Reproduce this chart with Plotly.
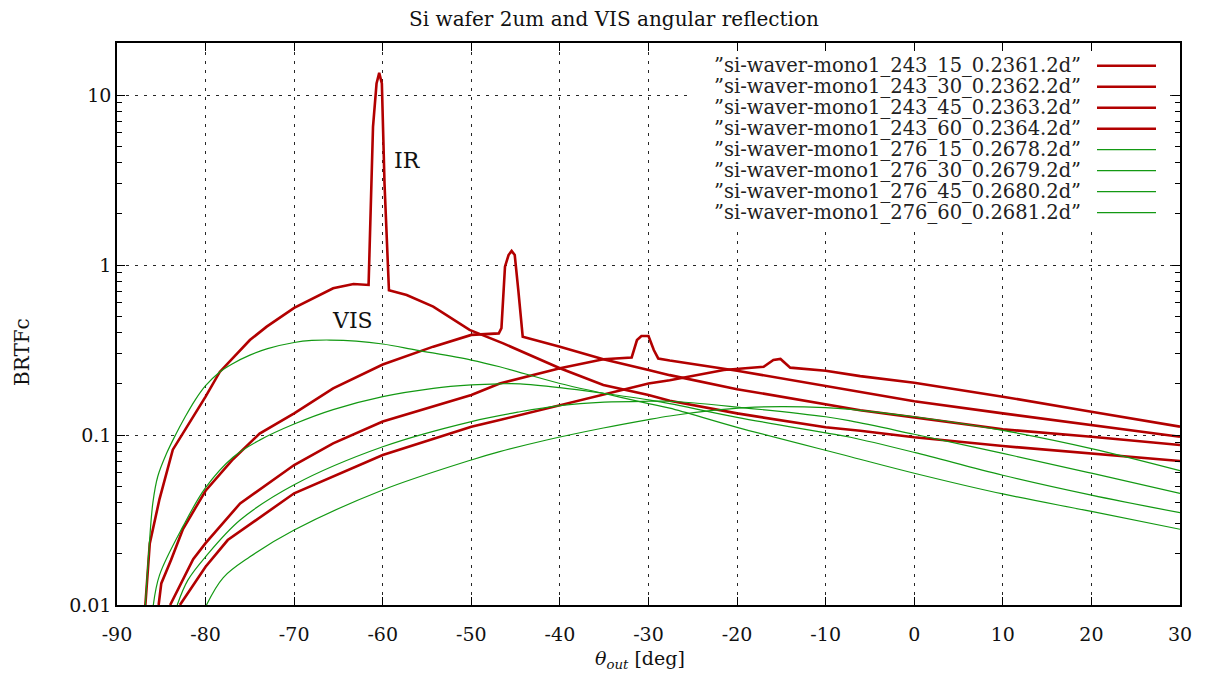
import math
import plotly.graph_objects as go

# ---------------- data ----------------
names = [
    "”si-waver-mono1_243_15_0.2361.2d”",
    "”si-waver-mono1_243_30_0.2362.2d”",
    "”si-waver-mono1_243_45_0.2363.2d”",
    "”si-waver-mono1_243_60_0.2364.2d”",
    "”si-waver-mono1_276_15_0.2678.2d”",
    "”si-waver-mono1_276_30_0.2679.2d”",
    "”si-waver-mono1_276_45_0.2680.2d”",
    "”si-waver-mono1_276_60_0.2681.2d”",
]

ir15_x = [-82.9, -80.0, -77.5, -70.0, -60.0, -50.0, -46.8, -40.0, -30.0, -27.6, -21.5, -17.0,
          -16.45, -15.9, -15.1, -14.6, -14.0, -10.0, -6.1, 0, 10, 20, 30]
ir15_y = [0.01, 0.0168, 0.0241, 0.0454, 0.0762, 0.112, 0.1225, 0.15, 0.201, 0.21, 0.241, 0.252,
          0.264, 0.276, 0.28, 0.266, 0.249, 0.239, 0.222, 0.203, 0.168, 0.137, 0.112]

ir30_x = [-84.0, -81.4, -80.0, -78.4, -76.1, -70.0, -65.6, -60.0, -50.0, -46.8, -40.0, -35.1,
          -31.9, -31.3, -30.8, -30.0, -29.4, -28.9, -27.6, -20.0, -10.0, -6.1, 0, 10, 20, 30]
ir30_y = [0.01, 0.0186, 0.0231, 0.0289, 0.0396, 0.0666, 0.0893, 0.12, 0.172, 0.201, 0.247, 0.279,
          0.286, 0.362, 0.382, 0.382, 0.316, 0.282, 0.274, 0.239, 0.194, 0.18, 0.158, 0.134, 0.1145, 0.0977]

ir45_x = [-85.3, -85.0, -83.9, -82.55, -80.0, -76.9, -73.9, -70.0, -65.6, -60.0, -54.3, -50.0,
          -46.9, -46.6, -46.2, -45.8, -45.45, -45.1, -44.7, -44.2, -40.0, -35.1, -30.0, -27.6,
          -20.0, -10.0, -6.1, 0, 10, 20, 30]
ir45_y = [0.01, 0.0134, 0.0184, 0.028, 0.047, 0.072, 0.102, 0.134, 0.188, 0.26, 0.331, 0.388,
          0.396, 0.425, 0.977, 1.145, 1.21, 1.145, 0.713, 0.379, 0.331, 0.279, 0.241, 0.225,
          0.186, 0.152, 0.14, 0.127, 0.108, 0.0977, 0.0873]

ir60_x = [-86.8, -86.3, -85.2, -83.7, -80.0, -78.4, -75.0, -73.1, -70.0, -65.6, -63.3, -61.6,
          -61.1, -60.7, -60.4, -60.1, -59.8, -59.3, -57.3, -54.3, -50.2, -46.4, -40.0, -35.1,
          -30.0, -27.6, -20.0, -10.0, -6.1, 0, 10, 20, 30]
ir60_y = [0.01, 0.023, 0.042, 0.082, 0.168, 0.235, 0.362, 0.434, 0.56, 0.73, 0.773, 0.763,
          6.5, 11.7, 13.5, 11.7, 3.0, 0.71, 0.666, 0.569, 0.415, 0.346, 0.247, 0.197,
          0.172, 0.159, 0.134, 0.111, 0.106, 0.0969, 0.0861, 0.078, 0.0703]

vis15_x = [-79.9, -78.0, -75.0, -70.0, -60.0, -50.0, -46.8, -41.5, -35.1, -30.0, -27.6, -23.0,
           -19.0, -15.0, -10.0, -7.2, 0, 10, 20, 30]
vis15_y = [0.01, 0.0145, 0.0192, 0.0276, 0.0475, 0.0713, 0.0798, 0.0935, 0.110, 0.1233, 0.1294, 0.139,
           0.145, 0.147, 0.145, 0.1416, 0.128, 0.1064, 0.0832, 0.0617]

vis30_x = [-83.2, -82.0, -79.9, -76.1, -70.0, -60.0, -50.0, -44.5, -40.0, -35.0, -30.0,
           -27.6, -20.0, -10.0, -7.2, 0, 10, 20, 30]
vis30_y = [0.01, 0.014, 0.0195, 0.0316, 0.051, 0.0853, 0.12, 0.137, 0.149, 0.156, 0.158,
           0.158, 0.146, 0.128, 0.121, 0.101, 0.078, 0.0596, 0.0454]

vis45_x = [-85.9, -85.2, -82.55, -80.0, -76.9, -73.9, -70.0, -65.6, -60.0, -54.3, -50.0, -46.8,
           -44.5, -40.0, -35.1, -30.0, -27.6, -20.0, -10.0, -7.2, 0, 10, 20, 30]
vis45_y = [0.01, 0.015, 0.029, 0.049, 0.074, 0.0933, 0.116, 0.141, 0.168, 0.188, 0.197, 0.2,
           0.2, 0.19, 0.176, 0.161, 0.153, 0.127, 0.103, 0.097, 0.079, 0.058, 0.0443, 0.0349]

vis60_x = [-86.8, -86.4, -85.95, -85.4, -84.4, -83.4, -82.3, -81.2, -80.0, -78.4, -77.0, -75.0,
           -73.0, -70.0, -68.0, -66.0, -63.0, -60.0, -56.2, -50.0, -46.8, -40.0, -35.1, -30.0,
           -27.6, -20.0, -7.2, 0, 10, 20, 30]
vis60_y = [0.01, 0.021, 0.04, 0.057, 0.078, 0.1, 0.128, 0.16, 0.195, 0.235, 0.262, 0.295,
           0.322, 0.350, 0.36, 0.362, 0.357, 0.343, 0.316, 0.276, 0.252, 0.201, 0.176, 0.153,
           0.144, 0.111, 0.0745, 0.0596, 0.045, 0.0355, 0.0279]

x_ticks = list(range(-90, 31, 10))
x_ticktext = [str(v) for v in x_ticks]
y_ticks = [0.01, 0.1, 1, 10]
y_ticktext = ["0.01", "0.1", "1", "10"]
title_text = "Si wafer 2um and VIS angular reflection"
xlabel = "<i>θ</i><sub><i>out</i></sub> [deg]"
ylabel = "BRTFc"

# ---------------- styling ----------------
RED = "#b20000"
GREEN = "#139913"
FONT = "DejaVu Serif"

series = [
    (ir15_x, ir15_y, RED, 2.6, "linear"),
    (ir30_x, ir30_y, RED, 2.6, "linear"),
    (ir45_x, ir45_y, RED, 2.6, "linear"),
    (ir60_x, ir60_y, RED, 2.6, "linear"),
    (vis15_x, vis15_y, GREEN, 1.2, "spline"),
    (vis30_x, vis30_y, GREEN, 1.2, "spline"),
    (vis45_x, vis45_y, GREEN, 1.2, "spline"),
    (vis60_x, vis60_y, GREEN, 1.2, "spline"),
]

fig = go.Figure()
for (xs, ys, col, w, shp), nm in zip(series, names):
    line = dict(color=col, width=w, shape=shp)
    if shp == "spline":
        line["smoothing"] = 1.0
    fig.add_trace(go.Scatter(x=xs, y=ys, mode="lines", line=line, name=nm, showlegend=False))

# page body has an 8px margin: compensate so the plot lands at the reference pixels
OFF = 8
W, H = 1206 - OFF, 675 - OFF
PL, PR, PT, PB = 117, 1180, 43, 605          # plot area in screen pixels
L, T = PL - OFF, PT - OFF
R, B = (OFF + W) - PR, (OFF + H) - PB
pw, ph = PR - PL, PB - PT


def px2paper_x(px):
    return (px - PL) / pw


def px2paper_y(py):
    return (PB - py) / ph


minor_vals = [m * 10 ** e for e in range(-2, 2) for m in range(2, 10)]

grid_style = dict(showgrid=True, gridcolor="rgba(0,0,0,0.85)", gridwidth=1, griddash="3px,6px")

fig.update_xaxes(
    range=[-90, 30], tickvals=x_ticks, ticktext=x_ticktext, ticks="inside", ticklen=8,
    tickwidth=1, tickcolor="black", showline=True, linecolor="black", linewidth=1.5,
    mirror="ticks", zeroline=False, tickfont=dict(family=FONT, size=19, color="#111"),
    ticklabelstandoff=11,
    **grid_style,
)
fig.update_yaxes(
    type="log", range=[-2, 1.306], tickvals=y_ticks, ticktext=y_ticktext, ticks="inside",
    ticklen=8, tickwidth=1, tickcolor="black", showline=True, linecolor="black", linewidth=1.5,
    mirror="ticks", zeroline=False, tickfont=dict(family=FONT, size=19, color="#111"),
    minor=dict(tickvals=minor_vals, ticks="inside", ticklen=5, tickcolor="black", showgrid=False),
    **grid_style,
)

shapes = [
    dict(type="rect", xref="paper", yref="paper", layer="above",
         x0=px2paper_x(692), x1=px2paper_x(1168), y0=px2paper_y(231), y1=px2paper_y(52),
         fillcolor="white", line=dict(width=0)),
]
annotations = []
for i, ((xs, ys, col, w, shp), nm) in enumerate(zip(series, names)):
    ypx = 65.7 + 21.0 * i
    yp = px2paper_y(ypx)
    shapes.append(dict(type="line", xref="paper", yref="paper", layer="above",
                       x0=px2paper_x(1097), x1=px2paper_x(1156), y0=yp, y1=yp,
                       line=dict(color=col, width=w)))
    annotations.append(dict(xref="paper", yref="paper", x=px2paper_x(1083), y=yp,
                            xanchor="right", yanchor="middle", text=nm, showarrow=False,
                            font=dict(family=FONT, size=19.5, color="#222")))

annotations.append(dict(xref="x", yref="y", x=-57.2, y=math.log10(4.1), text="IR",
                        showarrow=False, font=dict(family=FONT, size=22, color="#111")))
annotations.append(dict(xref="x", yref="y", x=-63.4, y=math.log10(0.47), text="VIS",
                        showarrow=False, font=dict(family=FONT, size=22, color="#111")))
annotations.append(dict(xref="paper", yref="paper", x=px2paper_x(22), y=px2paper_y(352),
                        text=ylabel, textangle=-90, showarrow=False, xanchor="center",
                        yanchor="middle", font=dict(family=FONT, size=20, color="#111")))
annotations.append(dict(xref="paper", yref="paper", x=px2paper_x(640), y=px2paper_y(659),
                        text=xlabel, showarrow=False, xanchor="center", yanchor="middle",
                        font=dict(family=FONT, size=19, color="#111")))

fig.update_layout(
    width=W, height=H, margin=dict(l=L, r=R, t=T, b=B, autoexpand=False),
    paper_bgcolor="white", plot_bgcolor="white",
    title=dict(text=title_text, x=(614 - OFF) / W, xanchor="center",
               y=1 - (19 - OFF) / H, yanchor="middle",
               font=dict(family=FONT, size=20, color="#111")),
    shapes=shapes, annotations=annotations, showlegend=False,
)

fig.write_html("out.html")
